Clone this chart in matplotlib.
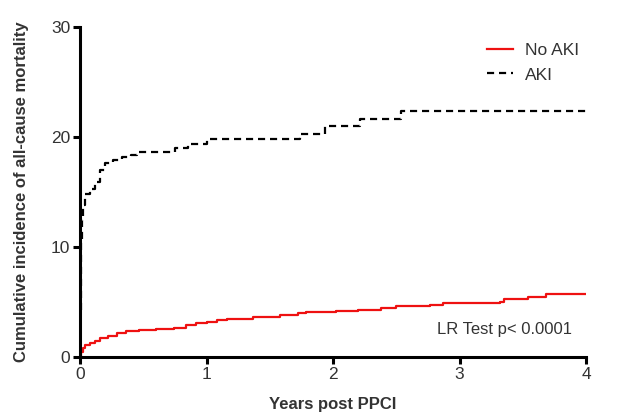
import matplotlib
matplotlib.use("Agg")
import matplotlib.pyplot as plt

plt.rcParams['font.family'] = ['Liberation Sans', 'DejaVu Sans']

# AKI (step, steps-post)
aki_t = [0, 0.002, 0.004, 0.007, 0.012, 0.02, 0.04, 0.08, 0.12, 0.16, 0.2, 0.26, 0.33, 0.4, 0.45, 0.75, 0.85, 1.0, 1.74, 1.94, 2.21, 2.54, 4.0]
aki_v = [0, 4, 8, 10.5, 12.5, 13.8, 14.8, 15.3, 15.9, 17.0, 17.6, 17.9, 18.2, 18.4, 18.6, 19.0, 19.4, 19.8, 20.3, 21.0, 21.6, 22.4, 22.4]

# No AKI
noaki_t = [0, 0.005, 0.02, 0.04, 0.08, 0.12, 0.16, 0.22, 0.29, 0.36, 0.47, 0.6, 0.74, 0.84, 0.92, 1.0, 1.08, 1.16, 1.37, 1.58, 1.72, 1.79, 2.02, 2.2, 2.38, 2.5, 2.77, 2.87, 3.32, 3.35, 3.54, 3.68, 4.0]
noaki_v = [0, 0.5, 0.8, 1.1, 1.3, 1.5, 1.7, 1.9, 2.2, 2.35, 2.5, 2.58, 2.65, 2.9, 3.05, 3.2, 3.35, 3.5, 3.6, 3.8, 4.0, 4.1, 4.2, 4.3, 4.5, 4.6, 4.7, 4.95, 5.0, 5.25, 5.5, 5.7, 5.7]

x_ticks = [0, 1, 2, 3, 4]
y_ticks = [0, 10, 20, 30]

fig = plt.figure(figsize=(6.17, 4.16), dpi=100)
ax = fig.add_axes([0.1297, 0.1418, 0.9498 - 0.1297, 0.935 - 0.1418])

ax.plot(noaki_t, noaki_v, drawstyle='steps-post', color='#ee1111', lw=1.6, label='No AKI')
ax.plot(aki_t, aki_v, drawstyle='steps-post', color='black', lw=1.6, dashes=(3.2, 2.2), label='AKI')

ax.set_xlim(0, 4)
ax.set_ylim(0, 30)
ax.set_xticks(x_ticks)
ax.set_yticks(y_ticks)
for s in ['top', 'right']:
    ax.spines[s].set_visible(False)
for s in ['left', 'bottom']:
    ax.spines[s].set_linewidth(2.2)
ax.tick_params(axis='both', width=2.2, length=5, labelsize=12.5, colors='black', labelcolor='#333333', pad=2)

ax.set_xlabel('Years post PPCI', fontsize=12, fontweight='bold', color='#333333', labelpad=11)
ax.set_ylabel('Cumulative incidence of all-cause mortality', fontsize=12, fontweight='bold', color='#333333', labelpad=16)

leg = ax.legend(loc='upper right', bbox_to_anchor=(1.018, 1.0), frameon=False, fontsize=12.5,
                handlelength=1.5, handletextpad=0.7, labelspacing=0.55)
for t in leg.get_texts():
    t.set_color('#333333')

ax.text(0.972, 0.083, 'LR Test p< 0.0001', transform=ax.transAxes, ha='right', va='center',
        fontsize=12, color='#333333')

fig.savefig('out.png', dpi=100)
